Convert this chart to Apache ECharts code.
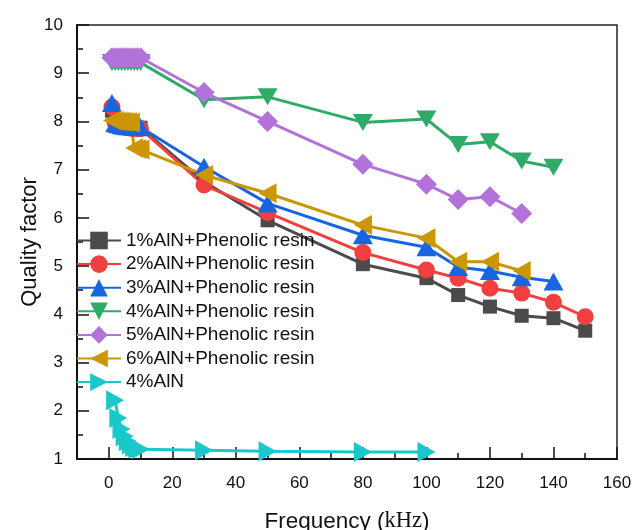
<!DOCTYPE html>
<html><head><meta charset="utf-8">
<script src="https://cdn.jsdelivr.net/npm/echarts@6/dist/echarts.min.js"></script>
<style>html,body{margin:0;padding:0;background:#fff}#c{width:633px;height:530px}</style>
</head><body><div id="c"></div>
<script>
// ---- data ----
const seriesNames = ['1%AlN+Phenolic resin','2%AlN+Phenolic resin','3%AlN+Phenolic resin','4%AlN+Phenolic resin','5%AlN+Phenolic resin','6%AlN+Phenolic resin','4%AlN'];
const s1x = [1,2,3,4,5,6,7,8,9,10,30,50,80,100,110,120,130,140,150];
const s1y = [8.22,8.0,7.95,7.92,7.9,7.89,7.88,7.88,7.87,7.87,6.75,5.95,5.04,4.75,4.40,4.16,3.97,3.92,3.66];
const s2x = [1,2,3,4,5,6,7,8,9,10,30,50,80,100,110,120,130,140,150];
const s2y = [8.3,7.98,7.92,7.9,7.88,7.87,7.86,7.86,7.85,7.85,6.68,6.11,5.28,4.92,4.75,4.54,4.44,4.25,3.95];
const s3x = [1,2,3,4,5,6,7,8,9,10,30,50,80,100,110,120,130,140];
const s3y = [8.38,7.96,7.94,7.92,7.91,7.9,7.9,7.89,7.89,7.88,7.06,6.3,5.64,5.39,4.98,4.9,4.77,4.68];
const s4x = [1,2,3,4,5,6,7,8,9,10,30,50,80,100,110,120,130,140];
const s4y = [9.22,9.22,9.22,9.22,9.22,9.22,9.22,9.22,9.22,9.22,8.45,8.51,7.98,8.05,7.52,7.58,7.18,7.05];
const s5x = [1,2,3,4,5,6,7,8,9,10,30,50,80,100,110,120,130];
const s5y = [9.32,9.32,9.32,9.32,9.32,9.32,9.32,9.32,9.32,9.32,8.6,8.0,7.11,6.7,6.38,6.44,6.09];
const s6x = [1,2,3,4,5,6,7,8,9,10,30,50,80,100,110,120,130];
const s6y = [8.02,8.01,8.0,8.0,7.99,7.99,7.98,7.45,7.43,7.42,6.89,6.51,5.85,5.58,5.09,5.09,4.9];
const s7x = [2,3,4,5,6,7,8,9,10,30,50,80,100];
const s7y = [2.22,1.85,1.62,1.47,1.37,1.3,1.25,1.22,1.2,1.18,1.16,1.145,1.145];
const xMajorTicks = [0,20,40,60,80,100,120,140,160];

// ---- styles ----
const colors = ['#4b4b4b','#f23f3f','#1766e0','#2fab68','#b272d9','#cc9600','#1ac8cc'];
const symbols = ['rect','circle','triangle','path://M0,0L20,0L10,17Z','diamond','path://M0,10L18,0L18,20Z','path://M0,0L18,10L0,20Z'];
const sizes = [[14,14],[17,17],[20,18],[20,17],[21,21],[18,20],[18,20]];
const xs = [s1x,s2x,s3x,s4x,s5x,s6x,s7x];
const ys = [s1y,s2y,s3y,s4y,s5y,s6y,s7y];
const FONT = 'Liberation Sans, Arial, sans-serif';

const series = seriesNames.map((n,i)=>({
  name:n, type:'line',
  data: xs[i].map((x,j)=>[x, ys[i][j]]),
  symbol: symbols[i], symbolSize: sizes[i],
  lineStyle:{color:colors[i], width:3},
  itemStyle:{color:colors[i]},
  xAxisIndex:0, yAxisIndex:0
}));

const chart = echarts.init(document.getElementById('c'), null, {renderer:'canvas'});
chart.setOption({
  animation:false,
  backgroundColor:'#fff',
  grid:{left:77, right:16, top:25, bottom:71, show:true, borderColor:'#222', borderWidth:1.5,
        containLabel:false, outerBoundsMode:'none'},
  legend:{
    orient:'vertical', left:76, top:231, padding:0,
    itemWidth:44, itemHeight:22, itemGap:4.6,
    textStyle:{fontSize:19, color:'#111', fontFamily:FONT},
    data: seriesNames
  },
  xAxis:[
    {type:'value', min:-10, max:160, interval:10,
     name:'{a|Frequency (}{b|kHz}{a|)}', nameLocation:'middle', nameGap:51, nameMoveOverlap:false,
     nameTextStyle:{rich:{a:{fontSize:22.5, fontFamily:FONT, color:'#111'}, b:{fontSize:22.5, fontFamily:'Liberation Serif, Times New Roman, serif', color:'#111'}}},
     axisLine:{show:true, onZero:false, lineStyle:{color:'#111', width:2}},
     axisTick:{show:true, inside:true, length:6, lineStyle:{color:'#111', width:1.5}},
     axisLabel:{fontSize:17, color:'#111', fontFamily:FONT, margin:16,
       formatter:v => (v>=0 && v%20===0) ? String(v) : ''},
     splitLine:{show:false}},
    {type:'value', min:-10, max:160, position:'bottom',
     axisLine:{show:false},
     axisTick:{show:true, inside:true, length:12, customValues:xMajorTicks, lineStyle:{color:'#111', width:1.5}},
     axisLabel:{show:false},
     splitLine:{show:false}}
  ],
  yAxis:[
    {type:'value', min:1, max:10, interval:1,
     name:'Quality factor', nameLocation:'middle', nameGap:36, nameMoveOverlap:false,
     nameTextStyle:{fontSize:22, fontFamily:FONT, color:'#111'},
     axisLine:{show:true, onZero:false, lineStyle:{color:'#111', width:2}},
     axisTick:{show:true, inside:true, length:12, lineStyle:{color:'#111', width:1.5}},
     minorTick:{show:true, splitNumber:2, length:6, lineStyle:{color:'#111', width:1.5}},
     axisLabel:{fontSize:17, color:'#111', fontFamily:FONT, margin:14},
     splitLine:{show:false}}
  ],
  series: series
});
</script></body></html>
